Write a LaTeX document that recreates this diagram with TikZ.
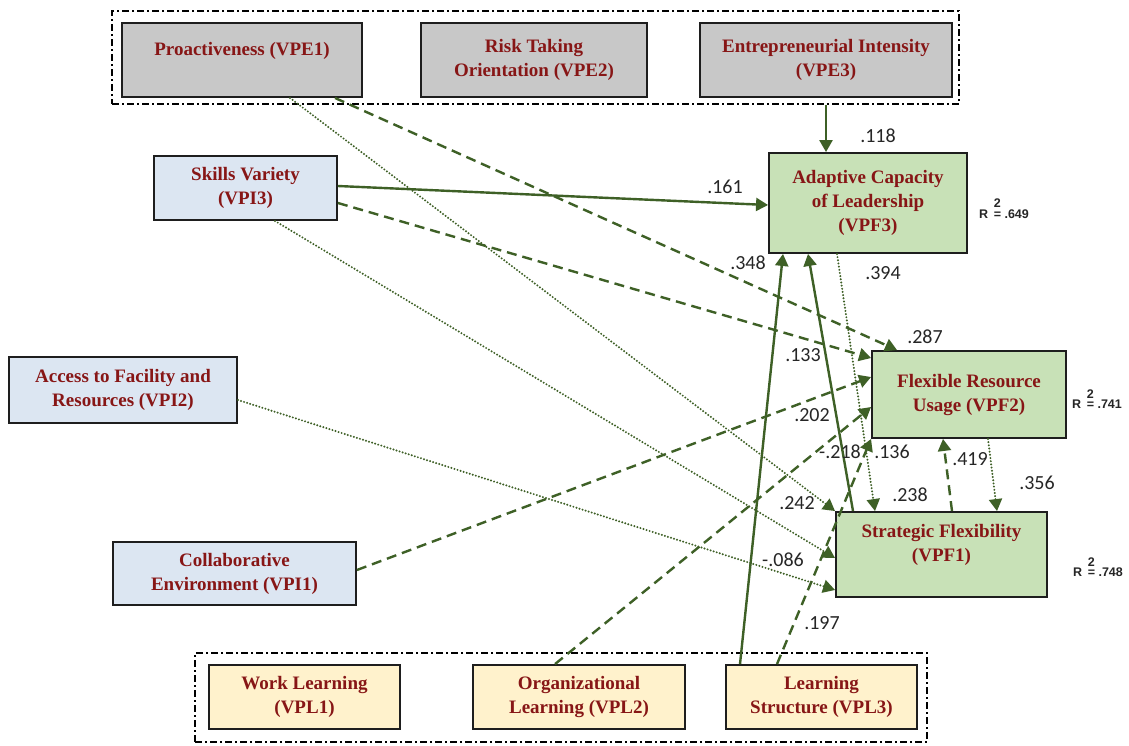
\documentclass[tikz,border=0pt]{standalone}
\usepackage{fontspec}
\setmainfont{Liberation Serif}
\newfontfamily\numfont{Carlito}
\newfontfamily\rfont{Liberation Sans}
\usetikzlibrary{arrows.meta,calc}
\definecolor{lnk}{RGB}{62,96,38}
\definecolor{txtred}{RGB}{135,22,22}
\definecolor{boxline}{RGB}{30,30,30}
\definecolor{fgray}{RGB}{200,200,200}
\definecolor{fblue}{RGB}{220,230,242}
\definecolor{fgreen}{RGB}{200,225,183}
\definecolor{fyellow}{RGB}{255,242,204}
\tikzset{
  box/.style={draw=boxline, line width=1.9pt, inner sep=0pt, align=center,
    text=txtred, font=\fontsize{19}{24}\selectfont\bfseries},
  boxtext/.style={inner sep=0pt, align=center, text=txtred,
    font=\fontsize{19}{24}\selectfont\bfseries},
  grp/.style={draw=black, line width=1.6pt, inner sep=0pt,
    dash pattern=on 7pt off 3pt on 2pt off 3pt},
  tip/.style={-{Triangle[length=12pt,width=13pt]}},
  solidarr/.style={draw=lnk, line width=2.4pt, tip},
  dasharr/.style={draw=lnk, line width=2.4pt, dash pattern=on 10pt off 6pt, tip},
  dotarr/.style={draw=lnk, line width=2.2pt, line cap=round, dash pattern=on 0pt off 3.2pt, tip},
  coef/.style={font=\numfont\fontsize{20}{22}\selectfont, text=black!85, inner sep=0pt},
  rsq/.style={font=\rfont\bfseries\fontsize{12.5}{14}\selectfont, text=black!85, inner sep=0pt}
}
\begin{document}
\begin{tikzpicture}[x=1pt,y=-1pt]
\useasboundingbox (0,0) rectangle (1129,745);
\fill[white] (0,0) rectangle (1129,745);

% group frames
\node[grp, minimum width=847pt, minimum height=93pt] (topgrp) at (535.5,57.5) {};
\node[grp, minimum width=732pt, minimum height=89pt] (botgrp) at (561,697.5) {};

% top boxes
\node[box, fill=fgray, minimum width=240pt, minimum height=74pt] (vpe1) at (242,60) {};
\node[boxtext] (vpe1t) at (242,51) {Proactiveness (VPE1)};
\node[box, fill=fgray, minimum width=226pt, minimum height=74pt] (vpe2) at (534,60) {Risk Taking\\Orientation (VPE2)};
\node[box, fill=fgray, minimum width=252pt, minimum height=74pt] (vpe3) at (826,60) {Entrepreneurial Intensity\\(VPE3)};

% left boxes
\node[box, fill=fblue, minimum width=183pt, minimum height=64pt] (vpi3) at (245.5,188) {Skills Variety\\(VPI3)};
\node[box, fill=fblue, minimum width=228pt, minimum height=66pt] (vpi2) at (123,390) {Access to Facility and\\Resources (VPI2)};
\node[box, fill=fblue, minimum width=243pt, minimum height=63pt] (vpi1) at (234.5,573.5) {Collaborative\\Environment (VPI1)};

% right boxes
\node[box, fill=fgreen, minimum width=198pt, minimum height=100pt] (vpf3) at (868,203) {Adaptive Capacity\\of Leadership\\(VPF3)};
\node[box, fill=fgreen, minimum width=194pt, minimum height=87pt] (vpf2) at (969,394.5) {Flexible Resource\\Usage (VPF2)};
\node[box, fill=fgreen, minimum width=211pt, minimum height=85pt] (vpf1) at (941.5,554.5) {};
\node[boxtext] (vpf1t) at (941.5,545) {Strategic Flexibility\\(VPF1)};

% bottom boxes
\node[box, fill=fyellow, minimum width=191pt, minimum height=64pt] (vpl1) at (304.5,697) {Work Learning\\(VPL1)};
\node[box, fill=fyellow, minimum width=212pt, minimum height=64pt] (vpl2) at (579,697) {Organizational\\Learning (VPL2)};
\node[box, fill=fyellow, minimum width=191pt, minimum height=64pt] (vpl3) at (821.5,697) {Learning\\Structure (VPL3)};

% connectors
\coordinate (vpe3out) at (vpe3.south |- topgrp.south);
\draw[solidarr] (vpe3out) -- (vpe3.south |- vpf3.north);
\draw[solidarr] ([yshift=2pt]vpi3.east) -- ([yshift=-2pt]vpf3.west);
\draw[dasharr] ([yshift=-15pt]vpi3.east) -- ([yshift=36.5pt]vpf2.west);
\draw[dotarr] ([xshift=29.5pt]vpi3.south) -- ([yshift=-3.5pt]vpf1.west);
\draw[dotarr] ([xshift=48pt]vpe1.south) -- (vpf1.north west);
\draw[dasharr] ([xshift=93pt]vpe1.south) -- ([xshift=-72pt]vpf2.north);
\draw[dotarr] ([yshift=-10pt]vpi2.east) -- ([yshift=-35.5pt]vpf1.west);
\draw[dasharr] ([yshift=3.5pt]vpi1.east) -- ([yshift=17.5pt]vpf2.west);
\draw[dasharr] ([xshift=-24pt]vpl2.north) -- ([yshift=-12.5pt]vpf2.west);
\draw[solidarr] ([xshift=-81.5pt]vpl3.north) -- ([xshift=-85pt]vpf3.south);
\draw[dasharr] ([xshift=-44.5pt]vpl3.north) -- (vpf2.south west);
\draw[solidarr] ([xshift=-88.5pt]vpf1.north) -- ([xshift=-60pt]vpf3.south);
\draw[dotarr] ([xshift=-31pt]vpf3.south) -- ([xshift=-66.5pt]vpf1.north);
\draw[dasharr] ([xshift=10.5pt]vpf1.north) -- ([xshift=-26pt]vpf2.south);
\draw[dotarr] ([xshift=19pt]vpf2.south) -- ([xshift=55.5pt]vpf1.north);

% coefficients
\node[coef] (c118) at (878,136) {.118};
\node[coef] (c161) at (725,187) {.161};
\node[coef] (c348) at (748,263) {.348};
\node[coef] (c394) at (883,273) {.394};
\node[coef] (c287) at (925,337) {.287};
\node[coef] (c133) at (803,355) {.133};
\node[coef] (c202) at (812,415) {.202};
\node[coef] (c218) at (840,452) {-.218};
\node[coef] (c136) at (892,452) {.136};
\node[coef] (c419) at (970,459) {.419};
\node[coef] (c242) at (797,503) {.242};
\node[coef] (c238) at (910,495) {.238};
\node[coef] (c356) at (1037,483) {.356};
\node[coef] (c086) at (783,560) {-.086};
\node[coef] (c197) at (822,623) {.197};

% R squared
\node[rsq] (r3) at (1004,209) {R\hspace{0.45em}\rlap{\raisebox{0.85em}{2}}= .649};
\node[rsq] (r2) at (1097,399) {R\hspace{0.45em}\rlap{\raisebox{0.85em}{2}}= .741};
\node[rsq] (r1) at (1098,567) {R\hspace{0.45em}\rlap{\raisebox{0.85em}{2}}= .748};
\end{tikzpicture}
\end{document}
